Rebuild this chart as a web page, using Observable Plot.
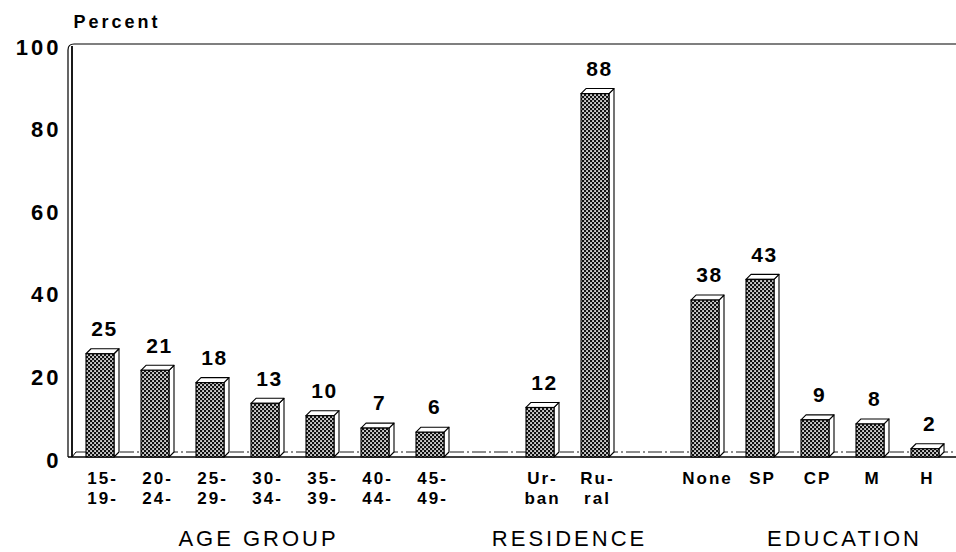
<!DOCTYPE html>
<html>
<head>
<meta charset="utf-8">
<script src="https://cdn.jsdelivr.net/npm/d3@7"></script>
<script src="https://cdn.jsdelivr.net/npm/@observablehq/plot@0.6"></script>
<style>
  html, body { margin: 0; padding: 0; background: #fff; }
  #chart svg { display: block; }
</style>
</head>
<body>
<div id="chart"></div>
<script>
// ---- data ----
const ageGroups = ["15-\n19-", "20-\n24-", "25-\n29-", "30-\n34-", "35-\n39-", "40-\n44-", "45-\n49-"];
const ageValues = [25, 21, 18, 13, 10, 7, 6];
const residence = ["Ur-\nban", "Ru-\nral"];
const residenceValues = [12, 88];
const education = ["None", "SP", "CP", "M", "H"];
const educationValues = [38, 43, 9, 8, 2];
const groupLabels = ["AGE GROUP", "RESIDENCE", "EDUCATION"];
const yTicks = [0, 20, 40, 60, 80, 100];
const yLabel = "Percent";

// spacer slots between the groups
const gapA = "gap-a", gapB = "gap-b";
const domain = [...ageGroups, gapA, ...residence, gapB, ...education];

const rows = [
  ...ageGroups.map((c, i) => ({cat: c, value: ageValues[i]})),
  ...residence.map((c, i) => ({cat: c, value: residenceValues[i]})),
  ...education.map((c, i) => ({cat: c, value: educationValues[i]}))
];
const cats = rows.map(d => d.cat);

const DEPTH = 5;
const FONT = "'Liberation Sans', Arial, Helvetica, sans-serif";

// pattern definition
const defs = () => {
  const d = d3.create("svg:defs");
  const p = d.append("pattern").attr("id", "dither").attr("patternUnits", "userSpaceOnUse")
    .attr("width", 4).attr("height", 4);
  p.append("rect").attr("width", 4).attr("height", 4).attr("fill", "#111");
  p.append("rect").attr("x", 0.2).attr("y", 0.2).attr("width", 1.7).attr("height", 1.7).attr("fill", "#fff");
  p.append("rect").attr("x", 2.2).attr("y", 2.2).attr("width", 1.7).attr("height", 1.7).attr("fill", "#fff");
  return d.node();
};

// frame: rounded double left edge, top line, floor
const frame = (index, scales, values, dim) => {
  const y = scales.y;
  const g = d3.create("svg:g").attr("fill", "none").attr("stroke", "#000");
  const L = dim.marginLeft, R = dim.width, T = y(100), B = y(0);
  g.append("path").attr("d", `M${L - 4},${B}V${T + 6}Q${L - 4},${T} ${L + 2},${T}H${R}`).attr("stroke-width", 1.2);
  g.append("line").attr("x1", L).attr("x2", L).attr("y1", T + 2).attr("y2", B).attr("stroke-width", 1.8);
  g.append("line").attr("x1", L - 4).attr("x2", R).attr("y1", B).attr("y2", B).attr("stroke-width", 1.4);
  g.append("line").attr("x1", L + 4).attr("x2", R).attr("y1", B - DEPTH).attr("y2", B - DEPTH)
    .attr("stroke-width", 0.9).attr("stroke-dasharray", "14 3 2 3");
  g.append("line").attr("x1", L).attr("x2", L + 4).attr("y1", B).attr("y2", B - DEPTH).attr("stroke-width", 1);
  return g.node();
};

// 3-D top and side faces of each bar
const faces = (index, scales) => {
  const x = scales.x, y = scales.y, bw = x.bandwidth();
  const g = d3.create("svg:g").attr("fill", "#fff").attr("stroke", "#000").attr("stroke-width", 1.1)
    .attr("stroke-linejoin", "round");
  for (const d of rows) {
    const x0 = x(d.cat), x1 = x0 + bw, yv = y(d.value), y0 = y(0);
    g.append("path").attr("d", `M${x1},${yv}L${x1 + DEPTH},${yv - DEPTH}V${y0 - DEPTH}L${x1},${y0}Z`);
    g.append("path").attr("d", `M${x0},${yv}L${x0 + DEPTH},${yv - DEPTH}H${x1 + DEPTH}L${x1},${yv}Z`);
  }
  return g.node();
};

const groupText = (label, at, dx) => Plot.text([label], {
  x: () => at, text: d => d, frameAnchor: "bottom", lineAnchor: "middle", dy: 81, dx,
  fontSize: 22, fill: "#000", className: "grp"
});

const chart = Plot.plot({
  width: 956,
  height: 552,
  marginTop: 44,
  marginBottom: 95,
  marginLeft: 72,
  marginRight: 0,
  style: {fontFamily: FONT, background: "#fff", color: "#000", overflow: "visible"},
  x: {type: "band", domain, range: [66, 959], paddingInner: 0.5, paddingOuter: 0.25, axis: null},
  y: {domain: [0, 100], axis: null},
  marks: [
    defs,
    frame,
    faces,
    Plot.barY(rows, {x: "cat", y: "value", fill: "url(#dither)", stroke: "#000", strokeWidth: 1.1}),
    Plot.text(rows, {x: "cat", y: "value", text: d => String(d.value), dy: -25, dx: 4,
      fontSize: 21, fontWeight: 600, fill: "#000", className: "val"}),
    Plot.text(yTicks, {y: d => d, text: d => String(d), frameAnchor: "left", textAnchor: "end",
      dx: -11, dy: 3, fontSize: 22, fontWeight: "bold", fill: "#000", className: "ytk"}),
    Plot.text(cats, {x: d => d, text: d => d, frameAnchor: "bottom", lineAnchor: "top", dy: 12, dx: 2,
      fontSize: 17, fontWeight: "bold", lineHeight: 1.2, fill: "#000", className: "xtk"}),
    groupText(groupLabels[0], ageGroups[3], -7),
    groupText(groupLabels[1], residence[1], -26),
    groupText(groupLabels[2], education[3], -26),
    Plot.text([yLabel], {text: d => d, frameAnchor: "top-left", textAnchor: "start", dx: 1, dy: -29,
      fontSize: 18, fontWeight: "bold", fill: "#000", className: "ylab"})
  ]
});
document.getElementById("chart").append(chart);
</script>
<style>
  g.val text { letter-spacing: 1.5px; }
  g.ytk text { letter-spacing: 3px; }
  g.xtk text { letter-spacing: 2px; }
  g.grp text { letter-spacing: 3px; }
  g.ylab text { letter-spacing: 3px; }
</style>
</body>
</html>
